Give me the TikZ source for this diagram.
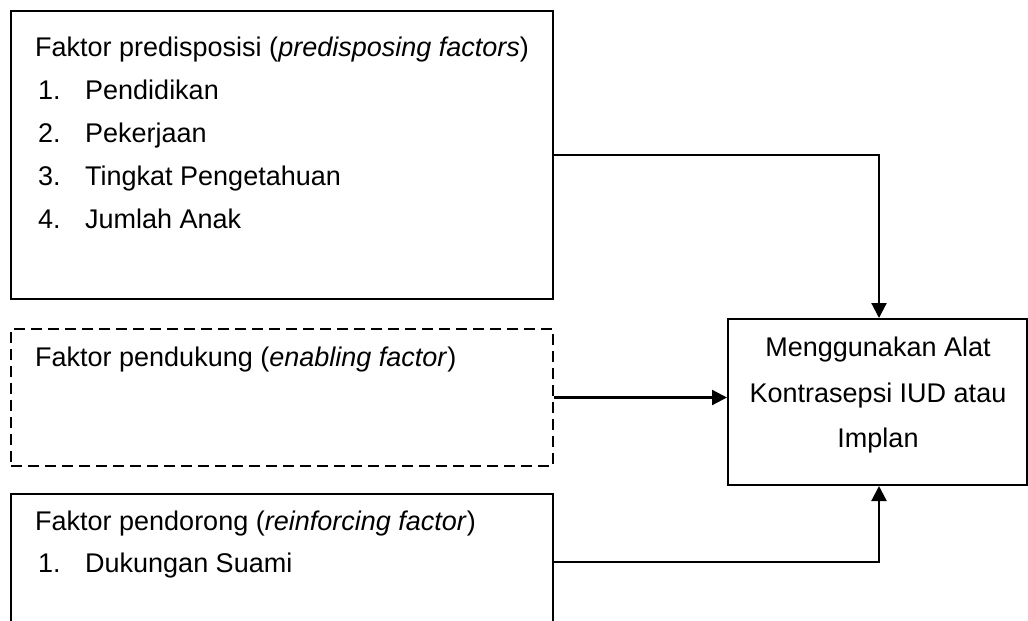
\documentclass[tikz,border=0pt]{standalone}
\usepackage{fontspec}
\setmainfont{Liberation Sans}
\usetikzlibrary{arrows.meta}
\begin{document}
\begin{tikzpicture}[x=1pt,y=-1pt,
  box/.style={draw,line width=2pt,rectangle,inner sep=0pt,anchor=north west},
  dbox/.style={box,dash pattern=on 11pt off 6pt},
  txt/.style={anchor=base west,inner sep=0pt,font=\fontsize{27}{32}\selectfont},
  ctxt/.style={anchor=base,inner sep=0pt,font=\fontsize{27}{32}\selectfont},
  conn/.style={line width=2.2pt},
  arr/.style={conn,-{Triangle[length=15pt,width=15pt]}}]
\useasboundingbox (0,0) rectangle (1028,621);
\clip (0,0) rectangle (1028,621);
% boxes
\node[box,minimum width=542pt,minimum height=288pt] (pre) at (10,10) {};
\node[dbox,minimum width=542pt,minimum height=137pt] (enb) at (10,328) {};
\node[box,minimum width=542pt,minimum height=136pt] (rei) at (10,493) {};
\node[box,minimum width=299pt,minimum height=166pt] (tgt) at (727,318) {};
% texts
\node[txt] (pret) at (35,56) {Faktor predisposisi (\textit{predisposing factors})};
\node[txt] (pn1) at (38,99) {1.};
\node[txt] (pi1) at (85,99) {Pendidikan};
\node[txt] (pn2) at (38,142) {2.};
\node[txt] (pi2) at (85,142) {Pekerjaan};
\node[txt] (pn3) at (38,185) {3.};
\node[txt] (pi3) at (85,185) {Tingkat Pengetahuan};
\node[txt] (pn4) at (38,228) {4.};
\node[txt] (pi4) at (85,228) {Jumlah Anak};
\node[txt] (enbt) at (35,366) {Faktor pendukung (\textit{enabling factor})};
\node[txt] (reit) at (35,530) {Faktor pendorong (\textit{reinforcing factor})};
\node[txt] (rn1) at (38,572) {1.};
\node[txt] (ri1) at (85,572) {Dukungan Suami};
\node[ctxt] (tg1) at (878,356) {Menggunakan Alat};
\node[ctxt] (tg2) at (878,402) {Kontrasepsi IUD atau};
\node[ctxt] (tg3) at (878,447) {Implan};
% connectors
\coordinate (cx) at (879,0);
\draw[arr] (pre.east) -- (pre.east -| cx) -- (cx |- tgt.north);
\draw[arr] (enb.east) -- (enb.east -| tgt.west);
\draw[arr] (rei.east) -- (rei.east -| cx) -- (cx |- tgt.south);
\end{tikzpicture}
\end{document}
